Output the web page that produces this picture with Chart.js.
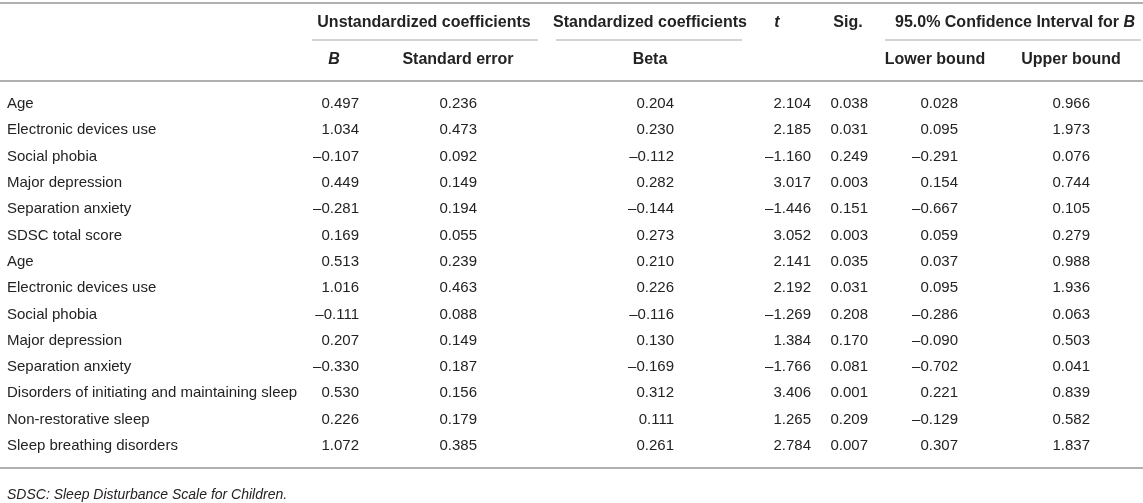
<!DOCTYPE html>
<html>
<head>
<meta charset="utf-8">
<script src="https://cdn.jsdelivr.net/npm/chart.js@4.4.1/dist/chart.umd.min.js"></script>
<style>
  html, body { margin: 0; padding: 0; background: #fff; }
  #wrap { width: 1143px; height: 503px; }
</style>
</head>
<body>
<div id="wrap"><canvas id="coefTable"></canvas></div>
<script>
// table values
const rowLabels = [
  "Age", "Electronic devices use", "Social phobia", "Major depression",
  "Separation anxiety", "SDSC total score", "Age", "Electronic devices use",
  "Social phobia", "Major depression", "Separation anxiety",
  "Disorders of initiating and maintaining sleep", "Non-restorative sleep",
  "Sleep breathing disorders"
];
const bValues     = [0.497, 1.034, -0.107, 0.449, -0.281, 0.169, 0.513, 1.016, -0.111, 0.207, -0.330, 0.530, 0.226, 1.072];
const seValues    = [0.236, 0.473, 0.092, 0.149, 0.194, 0.055, 0.239, 0.463, 0.088, 0.149, 0.187, 0.156, 0.179, 0.385];
const betaValues  = [0.204, 0.230, -0.112, 0.282, -0.144, 0.273, 0.210, 0.226, -0.116, 0.130, -0.169, 0.312, 0.111, 0.261];
const tValues     = [2.104, 2.185, -1.160, 3.017, -1.446, 3.052, 2.141, 2.192, -1.269, 1.384, -1.766, 3.406, 1.265, 2.784];
const sigValues   = [0.038, 0.031, 0.249, 0.003, 0.151, 0.003, 0.035, 0.031, 0.208, 0.170, 0.081, 0.001, 0.209, 0.007];
const lowerValues = [0.028, 0.095, -0.291, 0.154, -0.667, 0.059, 0.037, 0.095, -0.286, -0.090, -0.702, 0.221, -0.129, 0.307];
const upperValues = [0.966, 1.973, 0.076, 0.744, 0.105, 0.279, 0.988, 1.936, 0.063, 0.503, 0.041, 0.839, 0.582, 1.837];
const footnote = "SDSC: Sleep Disturbance Scale for Children.";

// layout (x in canvas px via the x scale, y in row units via the y scale)
const W = 1143, H = 503;
const rowPx = 26.3, firstRowPx = 104;
const yMin = -firstRowPx / rowPx;
const yMax = yMin + H / rowPx;
const labelX = 7;
const colRight = [359, 477, 674, 811, 868, 958, 1090];
const TXT = "#232323";
const RULE = "#b0b0b0";
const FONT = "'Liberation Sans', Arial, Helvetica, sans-serif";
const HEAD = "bold 16px " + FONT;
const HEAD_IT = "italic bold 16px " + FONT;

const columns = [bValues, seValues, betaValues, tValues, sigValues, lowerValues, upperValues];

function fmt(v) {
  const s = Math.abs(v).toFixed(3);
  return v < 0 ? "\u2013" + s : s;
}

const datasets = [{
  label: "labels",
  data: rowLabels.map((_, i) => ({ x: labelX, y: i })),
  texts: rowLabels,
  align: "left"
}].concat(columns.map((vals, c) => ({
  label: "col" + c,
  data: vals.map((_, i) => ({ x: colRight[c], y: i })),
  texts: vals.map(fmt),
  align: "right"
})));
datasets.forEach(d => { d.pointRadius = 0; d.showLine = false; });

const header1 = [
  { t: "Unstandardized coefficients", x: 424 },
  { t: "Standardized coefficients", x: 650 },
  { t: "t", x: 777, it: true },
  { t: "Sig.", x: 848 }
];
const header2 = [
  { t: "B", x: 334, it: true },
  { t: "Standard error", x: 458 },
  { t: "Beta", x: 650 },
  { t: "Lower bound", x: 935 },
  { t: "Upper bound", x: 1071 }
];
const spans = [[312, 538], [556, 742], [885, 1141]];
const rowsPx = { top: 3, h1: 22.5, under: 40, h2: 60, mid: 81, bottom: 468, foot: 495 };
const rows = {};
Object.keys(rowsPx).forEach(k => { rows[k] = (rowsPx[k] - firstRowPx) / rowPx; });

const tablePlugin = {
  id: "tableText",
  afterDatasetsDraw(chart) {
    const ctx = chart.ctx;
    const xs = chart.scales.x, ys = chart.scales.y;
    const py = u => ys.getPixelForValue(u);
    const px = v => xs.getPixelForValue(v);
    ctx.save();
    ctx.textBaseline = "middle";
    ctx.fillStyle = TXT;

    // body cells
    ctx.font = "15px " + FONT;
    chart.data.datasets.forEach((ds, di) => {
      const meta = chart.getDatasetMeta(di);
      ctx.textAlign = ds.align;
      meta.data.forEach((el, i) => ctx.fillText(ds.texts[i], el.x, el.y));
    });

    // headers
    ctx.textAlign = "center";
    header1.forEach(h => {
      ctx.font = h.it ? HEAD_IT : HEAD;
      ctx.fillText(h.t, px(h.x), py(rows.h1));
    });
    header2.forEach(h => {
      ctx.font = h.it ? HEAD_IT : HEAD;
      ctx.fillText(h.t, px(h.x), py(rows.h2));
    });
    // "95.0% Confidence Interval for B" with italic B
    const ciA = "95.0% Confidence Interval for ", ciB = "B";
    ctx.textAlign = "left";
    ctx.font = HEAD;
    const wA = ctx.measureText(ciA).width;
    ctx.fillText(ciA, px(895), py(rows.h1));
    ctx.font = HEAD_IT;
    ctx.fillText(ciB, px(895) + wA, py(rows.h1));

    // footnote
    ctx.font = "italic 14px " + FONT;
    ctx.fillText(footnote, px(labelX), py(rows.foot));

    // rules
    ctx.strokeStyle = RULE;
    ctx.lineWidth = 2;
    [rows.top, rows.mid, rows.bottom].forEach(u => {
      const y = Math.round(py(u));
      ctx.beginPath();
      ctx.moveTo(px(0), y);
      ctx.lineTo(px(W), y);
      ctx.stroke();
    });
    ctx.strokeStyle = "#c4c4c4";
    ctx.lineWidth = 1.5;
    spans.forEach(s => {
      const y = Math.round(py(rows.under));
      ctx.beginPath();
      ctx.moveTo(px(s[0]), y);
      ctx.lineTo(px(s[1]), y);
      ctx.stroke();
    });
    ctx.restore();
  }
};

new Chart(document.getElementById("coefTable").getContext("2d"), {
  type: "scatter",
  data: { datasets: datasets },
  options: {
    responsive: true,
    maintainAspectRatio: false,
    animation: false,
    layout: { padding: 0 },
    scales: {
      x: { type: "linear", min: 0, max: W, display: false },
      y: { type: "linear", reverse: true, min: yMin, max: yMax, display: false }
    },
    plugins: { legend: { display: false }, tooltip: { enabled: false } }
  },
  plugins: [tablePlugin]
});
</script>
</body>
</html>
